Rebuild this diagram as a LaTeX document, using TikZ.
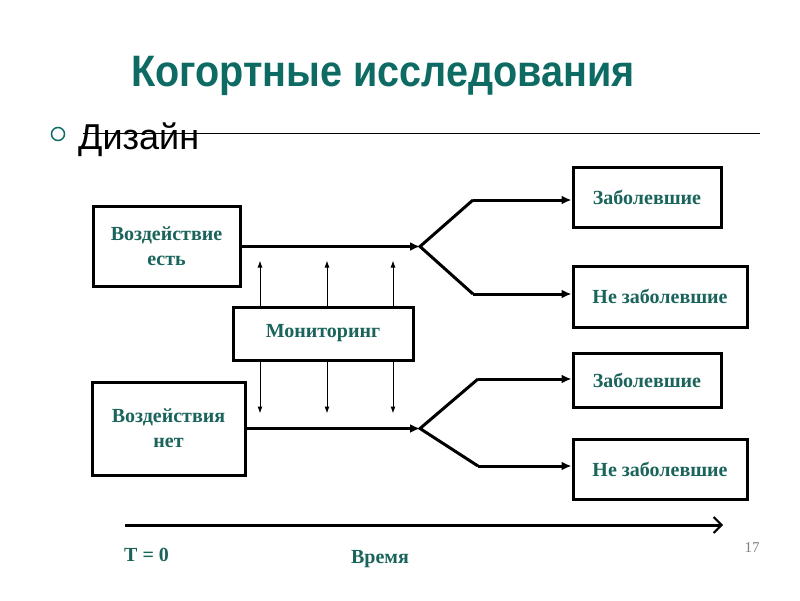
\documentclass[tikz,border=0pt]{standalone}
\usepackage{fontspec}
\setmainfont{Liberation Serif}
\newfontfamily\titlefont[FakeStretch=0.9]{Liberation Sans}
\newfontfamily\bodysans{Liberation Sans}
\usetikzlibrary{arrows.meta}
\definecolor{titleteal}{HTML}{0E6B64}
\definecolor{boxteal}{HTML}{1A645B}
\tikzset{
  box/.style={draw=black, line width=3pt, fill=white, align=center, inner sep=2pt,
    font=\fontsize{20}{25}\selectfont\bfseries, text=boxteal},
  flow/.style={line width=3pt, -{Latex[length=10pt,width=9pt]}},
  fork/.style={line width=3pt},
  monarrow/.style={line width=1pt, -{Latex[length=7pt,width=5pt]}},
  timeaxis/.style={line width=3pt, -{Straight Barb[length=8pt,width=16pt,line width=2pt]}},
  lbl/.style={text=boxteal, font=\fontsize{20}{24}\selectfont\bfseries, inner sep=0pt}
}
\begin{document}
\begin{tikzpicture}[x=1pt,y=-1pt]
\useasboundingbox[fill=white] (0,0) rectangle (800,600);
% title
\node[text=titleteal, font=\titlefont\fontsize{44}{50}\selectfont\bfseries, inner sep=0pt] (title) at (383,76) {Когортные исследования};
% bullet + Дизайн
\node[circle, draw=titleteal, line width=1.5pt, minimum size=13pt, inner sep=0pt] (bullet) at (58,134) {};
\coordinate (rulea) at (83,133);
\coordinate (ruleb) at (760,133);
\draw[line width=1pt] (rulea) -- (ruleb);
\node[anchor=west, font=\bodysans\fontsize{36}{42}\selectfont, inner sep=0pt] (diz) at (78,140) {Дизайн};
% boxes
\node[box, minimum width=147pt, minimum height=80pt] (b1) at (166.5,246.5) {Воздействие\\есть};
\node[box, minimum width=180pt, minimum height=53pt] (mon) at (323,333.5) {Мониторинг};
\node[box, minimum width=153pt, minimum height=93pt] (b2) at (168.5,428.5) {Воздействия\\нет};
\node[box, minimum width=148pt, minimum height=60pt] (z1) at (647,197) {Заболевшие};
\node[box, minimum width=174pt, minimum height=61pt] (n1) at (660,296.5) {Не заболевшие};
\node[box, minimum width=148pt, minimum height=54pt] (z2) at (647,380) {Заболевшие};
\node[box, minimum width=174pt, minimum height=60pt] (n2) at (660,469) {Не заболевшие};
% forks
\coordinate (f1) at (420,246.5);
\coordinate (f1a) at (473,200);
\coordinate (f1b) at (473,294);
\coordinate (f2) at (420,428.5);
\coordinate (f2a) at (478,379);
\coordinate (f2b) at (478,466);
\draw[flow] (b1.east) -- (f1);
\draw[flow] (b2.east) -- (f2);
\draw[fork, line join=miter] (f1a) -- (f1) -- (f1b);
\draw[fork, line join=miter] (f2a) -- (f2) -- (f2b);
\draw[flow] (f1a) -- (f1a -| z1.west);
\draw[flow] (f1b) -- (f1b -| n1.west);
\draw[flow] (f2a) -- (f2a -| z2.west);
\draw[flow] (f2b) -- (f2b -| n2.west);
% monitoring arrows
\foreach \dx in {-63,4,70}{
  \draw[monarrow] ([xshift=\dx pt]mon.north) -- ++(0,-45);
  \draw[monarrow] ([xshift=\dx pt]mon.south) -- ++(0,52);
}
% time axis
\coordinate (t0) at (125,525);
\coordinate (t1) at (723,525);
\draw[timeaxis] (t0) -- (t1);
\node[lbl, anchor=west] (tz) at (124,555) {T = 0};
\node[lbl] (vr) at (380,559) {Время};
\node[text=gray, font=\fontsize{15}{17}\selectfont, inner sep=0pt] (pg) at (752,548) {17};
\end{tikzpicture}
\end{document}
